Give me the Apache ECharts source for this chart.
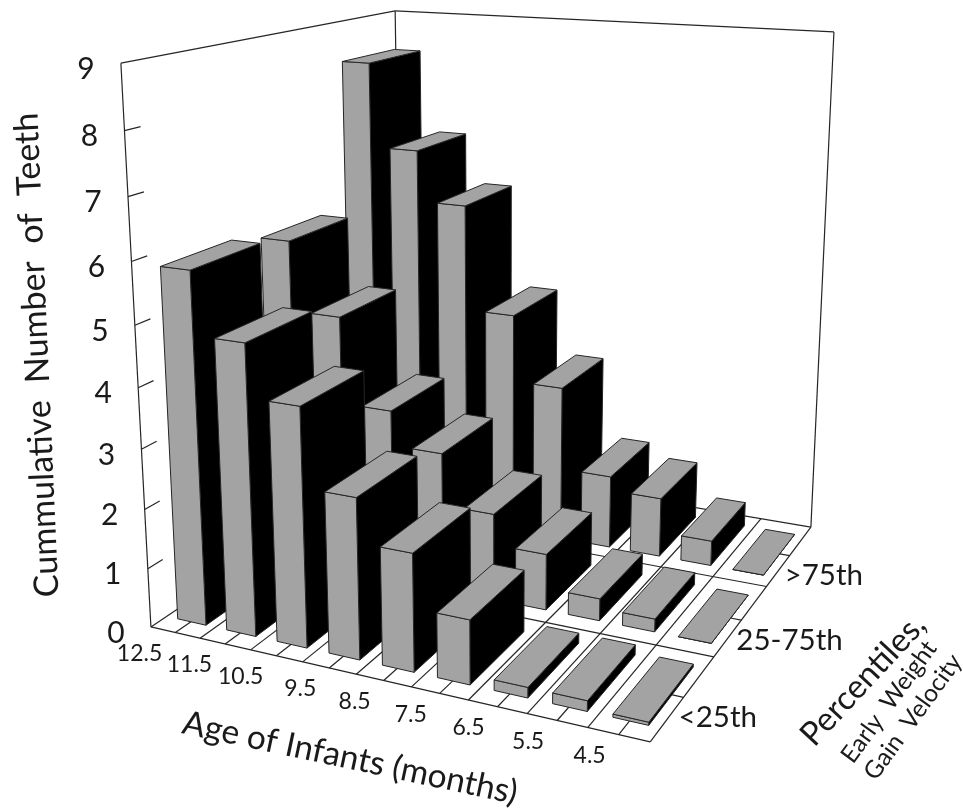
<!DOCTYPE html>
<html><head><meta charset="utf-8">
<style>html,body{margin:0;padding:0;background:#fff}#c{width:963px;height:809px}</style>
<script src="https://cdn.jsdelivr.net/npm/echarts@6/dist/echarts.min.js"></script>
</head><body><div id="c"></div>
<script>
const ages = ['12.5','11.5','10.5','9.5','8.5','7.5','6.5','5.5','4.5'];
const percentiles = ['<25th','25-75th','>75th'];
const valuesLow  = [5.85,4.82,3.95,2.65,1.93,1.05,0.17,0.17,0.05];
const valuesMid  = [5.7,4.5,3.0,2.4,1.5,0.97,0.38,0.22,0.0];
const valuesHigh = [8.33,6.83,5.92,4.03,2.82,1.32,1.07,0.45,0.0];
const valueTicks = [0,1,2,3,4,5,6,7,8,9];

const INK='#262626', GREY='#a3a3a3', FONT='Lato';
const W=963,H=809,NX=ages.length,NY=percentiles.length,NZ=9;
const calib=[[0,0,0,151,627],[9,0,0,650,742],[9,3,0,811,527],[0,3,9,395,11],[0,0,9,121,63],[9,3,9,834,32]];
function solve(){
  const n=11,A=[],b=[];
  calib.forEach(([x,y,z,u,v])=>{
    A.push([x,y,z,1,0,0,0,0,-u*x,-u*y,-u*z]);b.push(u);
    A.push([0,0,0,0,x,y,z,1,-v*x,-v*y,-v*z]);b.push(v);
  });
  const M=[];for(let i=0;i<n;i++){const r=[];for(let j=0;j<n;j++){let s=0;A.forEach(a=>s+=a[i]*a[j]);r.push(s);}let s=0;A.forEach((a,k)=>s+=a[i]*b[k]);r.push(s);M.push(r);}
  for(let i=0;i<n;i++){let p=i;for(let k=i+1;k<n;k++)if(Math.abs(M[k][i])>Math.abs(M[p][i]))p=k;[M[i],M[p]]=[M[p],M[i]];
    for(let k=0;k<n;k++)if(k!==i){const f=M[k][i]/M[i][i];for(let j=i;j<=n;j++)M[k][j]-=f*M[i][j];}}
  return M.map((r,i)=>r[n]/r[i]);
}
const m=solve();
function proj(x,y,z){const d=m[8]*x+m[9]*y+m[10]*z+1;return[(m[0]*x+m[1]*y+m[2]*z+m[3])/d,(m[4]*x+m[5]*y+m[6]*z+m[7])/d];}
// the hidden cartesian axes scale age position and value; depth comes from the percentile index
function projector(api){return (x,y,z)=>{const c=api.coord([x,z]);return proj(c[0]/W*NX,y,(H-c[1])/H*NZ);};}

const line=(a,b)=>({type:'polyline',shape:{points:[a,b]},style:{stroke:INK,lineWidth:1.2,fill:null},silent:true});
const txt=(t,x,y,size,rot,align)=>({type:'text',x,y,rotation:(rot||0)*Math.PI/180,silent:true,
  style:{text:t,fill:'#1a1a1a',font:size+'px '+FONT,align:align||'center',verticalAlign:'middle'}});

function renderFrame(params,api){
  const P=projector(api),ch=[];
  [[[0,0,0],[0,0,NZ]],[[0,0,NZ],[0,NY,NZ]],[[0,NY,NZ],[NX,NY,NZ]],[[NX,NY,NZ],[NX,NY,0]],[[0,NY,0],[0,NY,NZ]],
   [[0,0,0],[NX,0,0]],[[NX,0,0],[NX,NY,0]],[[NX,NY,0],[0,NY,0]],[[0,NY,0],[0,0,0]]]
   .forEach(([a,b])=>ch.push(line(P(...a),P(...b))));
  for(let i=1;i<NX;i++)ch.push(line(P(i,0,0),P(i,NY,0)));
  for(let j=1;j<NY;j++)ch.push(line(P(0,j,0),P(NX,j,0)));
  ages.forEach((a,i)=>{const p=P(i+.5,0,0);ch.push(line(p,P(i+.5,.22,0)));ch.push(txt(a,p[0]-13,p[1]+21,23,0,'right'));});
  percentiles.forEach((t,j)=>{const p=P(NX,j+.5,0);ch.push(line(p,P(NX-.22,j+.5,0)));ch.push(txt(t,p[0]-5,p[1]+20,29.5,0,'left'));});
  valueTicks.forEach(v=>{const p=P(0,0,v);if(v>0&&v<9)ch.push(line(p,P(0,.14,v)));ch.push(txt(String(v),p[0]-35,p[1]+6,30));});
  ch.push(txt('Cummulative  Number  of  Teeth',37,355,34,92.5));
  ch.push(txt('Age of Infants (months)',350,758,33.5,-12));
  ch.push(txt('Percentiles,',863,680,33,47));
  ch.push(txt('Early  Weight',889,702,24.5,54));
  ch.push(txt('Gain  Velocity',913,717,24.5,54));
  return {type:'group',children:ch};
}
const X0=.23,X1=.81,Y0=.15,Y1=.84;
function renderBar(params,api){
  const P=projector(api),i=api.value(0),v=api.value(1),j=api.value(2);
  const x0=i+X0,x1=i+X1,y0=j+Y0,y1=j+Y1;
  const face=(pts,fill)=>({type:'polygon',shape:{points:pts},style:{fill,stroke:INK,lineWidth:1},silent:true});
  return {type:'group',children:[
    face([P(x1,y0,0),P(x1,y1,0),P(x1,y1,v),P(x1,y0,v)],'#000'),
    face([P(x0,y0,0),P(x1,y0,0),P(x1,y0,v),P(x0,y0,v)],GREY),
    face([P(x0,y0,v),P(x1,y0,v),P(x1,y1,v),P(x0,y1,v)],GREY)
  ]};
}
const rows=[valuesLow,valuesMid,valuesHigh];
const barData=[];
for(let j=NY-1;j>=0;j--)rows[j].forEach((v,i)=>barData.push([i,v,j]));

const chart=echarts.init(document.getElementById('c'),null,{renderer:'canvas'});
chart.setOption({
  animation:false,backgroundColor:'#fff',
  grid:{left:0,right:0,top:0,bottom:0},
  xAxis:{type:'value',min:0,max:NX,show:false},
  yAxis:{type:'value',min:0,max:NZ,show:false},
  series:[
    {type:'custom',name:'frame',renderItem:renderFrame,data:[[0,0]],clip:false,z:1},
    {type:'custom',name:'teeth',renderItem:renderBar,data:barData,encode:{x:0,y:1},clip:false,z:2}
  ]
});
</script></body></html>
